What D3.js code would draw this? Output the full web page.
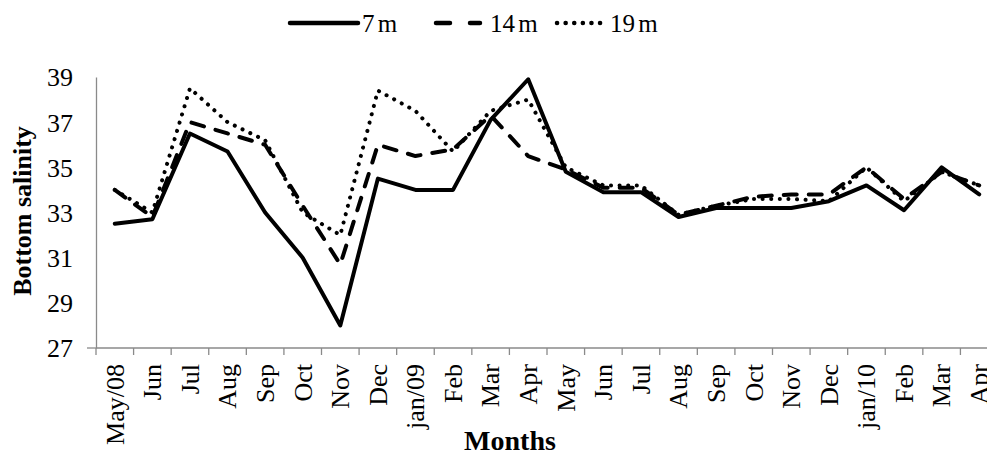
<!DOCTYPE html>
<html>
<head>
<meta charset="utf-8">
<script src="https://cdn.jsdelivr.net/npm/d3@7"></script>
<style>
  html, body { margin: 0; padding: 0; background: #fff; }
  svg { display: block; }
  text { font-family: "Liberation Serif", "Times New Roman", serif; fill: #000; }
</style>
</head>
<body>
<svg id="chart" width="987" height="453"></svg>
<script>
// Monthly bottom salinity at three depths, May 2008 – April 2010
const months = ["May/08", "Jun", "Jul", "Aug", "Sep", "Oct", "Nov", "Dec", "jan/09", "Feb", "Mar", "Apr",
                "May", "Jun", "Jul", "Aug", "Sep", "Oct", "Nov", "Dec", "jan/10", "Feb", "Mar", "Apr"];
const depth7m  = [32.5, 32.7, 36.5, 35.7, 33.0, 31.0, 28.0, 34.5, 34.0, 34.0, 37.1, 38.9,
                  34.8, 33.9, 33.9, 32.8, 33.2, 33.2, 33.2, 33.5, 34.2, 33.1, 35.0, 33.8];
const depth14m = [34.0, 32.8, 37.0, 36.5, 36.0, 33.3, 30.7, 36.0, 35.5, 35.8, 37.3, 35.5,
                  34.9, 34.1, 34.1, 32.9, 33.3, 33.7, 33.8, 33.8, 35.0, 33.6, 34.8, 34.2];
const depth19m = [34.0, 33.0, 38.5, 37.0, 36.2, 33.0, 32.0, 38.4, 37.5, 35.7, 37.5, 38.0,
                  35.0, 34.2, 34.2, 32.9, 33.3, 33.6, 33.6, 33.5, 35.0, 33.5, 34.8, 34.2];
const yTicks = [27, 29, 31, 33, 35, 37, 39];
const seriesNames = ["7 m", "14 m", "19 m"];

const series = [
  { name: seriesNames[0], values: depth7m,  dash: null,       legendDash: null },
  { name: seriesNames[1], values: depth14m, dash: "13 12",    legendDash: "14 20" },
  { name: seriesNames[2], values: depth19m, dash: "0.1 8.5",  legendDash: "0.1 8.5" }
];

const svg = d3.select("#chart");
const axisColor = "#8a8a8a";

const x = d3.scaleBand().domain(d3.range(months.length)).range([96, 998]).padding(0);
const y = d3.scaleLinear().domain([27, 39]).range([348, 77]);

// y axis
const yAxis = svg.append("g").attr("transform", "translate(96,0)")
  .call(d3.axisLeft(y).tickValues(yTicks).tickSize(0).tickPadding(23).tickFormat(d3.format("d")));
yAxis.select(".domain").attr("stroke", axisColor).attr("stroke-width", 1.3);
yAxis.selectAll("text").style("font-size", "26px").attr("dy", "0.34em");
svg.append("line").attr("x1", 87).attr("x2", 96).attr("y1", y(27)).attr("y2", y(27))
  .attr("stroke", axisColor).attr("stroke-width", 1.3);

// x axis: ticks on band boundaries, labels at band centres
const xAxisG = svg.append("g").attr("transform", `translate(0,${y(27)})`);
xAxisG.append("line").attr("x1", 96).attr("x2", 998).attr("y1", 0).attr("y2", 0)
  .attr("stroke", axisColor).attr("stroke-width", 1.3);
xAxisG.selectAll("line.tick").data(d3.range(months.length + 1)).join("line")
  .attr("class", "tick")
  .attr("x1", i => x(0) + i * x.bandwidth()).attr("x2", i => x(0) + i * x.bandwidth())
  .attr("y1", 0).attr("y2", 7)
  .attr("stroke", axisColor).attr("stroke-width", 1.3);
xAxisG.selectAll("text.lbl").data(months).join("text")
  .attr("class", "lbl")
  .attr("transform", (d, i) => `translate(${x(i) + x.bandwidth() / 2},16) rotate(-90)`)
  .attr("text-anchor", "end")
  .attr("dy", "0.34em")
  .style("font-size", "26px")
  .text(d => d);

// series lines
const line = d3.line().x((d, i) => x(i) + x.bandwidth() / 2).y(d => y(d));
series.forEach(s => {
  svg.append("path").datum(s.values)
    .attr("d", line)
    .attr("fill", "none")
    .attr("stroke", "#000")
    .attr("stroke-width", 4)
    .attr("stroke-linejoin", "round")
    .attr("stroke-linecap", "round")
    .attr("stroke-dasharray", s.dash);
});

// axis titles
svg.append("text")
  .attr("transform", `translate(31,211) rotate(-90)`)
  .attr("text-anchor", "middle")
  .style("font-size", "26px").style("font-weight", "bold")
  .text("Bottom salinity");
svg.append("text")
  .attr("x", 510).attr("y", 450)
  .attr("text-anchor", "middle")
  .style("font-size", "28px").style("font-weight", "bold")
  .text("Months");

// legend
const legendPos = [
  { x1: 290, x2: 358, tx: 362 },
  { x1: 436, x2: 480, tx: 490 },
  { x1: 557, x2: 605, tx: 610 }
];
const legend = svg.append("g");
series.forEach((s, i) => {
  const p = legendPos[i];
  legend.append("line")
    .attr("x1", p.x1).attr("x2", p.x2).attr("y1", 23).attr("y2", 23)
    .attr("stroke", "#000").attr("stroke-width", 4.5)
    .attr("stroke-linecap", "round")
    .attr("stroke-dasharray", s.legendDash);
  legend.append("text")
    .attr("x", p.tx).attr("y", 23).attr("dy", "0.34em")
    .style("font-size", "25px")
    .style("word-spacing", "-3px")
    .text(s.name);
});
</script>
</body>
</html>
